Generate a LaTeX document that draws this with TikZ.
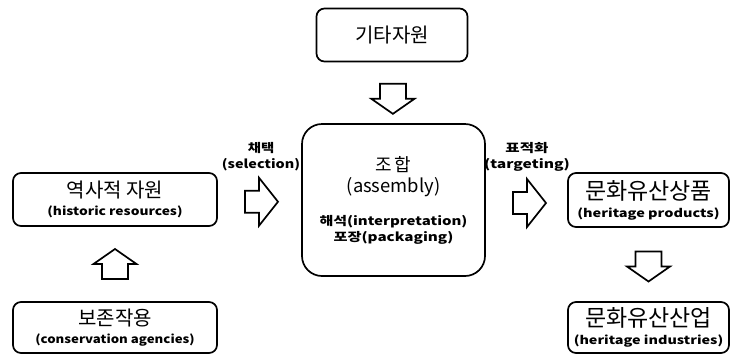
\documentclass[tikz,border=0pt]{standalone}
\usepackage{fontspec}
\setmainfont{Noto Sans CJK KR}
\usetikzlibrary{calc}
\newcommand{\wbt}[3]{{\bfseries\fontsize{#1}{14}\selectfont\addfontfeature{FakeStretch=#2}#3}}
\newcommand{\kt}[2]{{\fontsize{#1}{22}\selectfont #2}}
\tikzset{
  box/.style={draw=black, line width=1.7pt, rounded corners=8pt, align=center, inner sep=0pt, fill=white},
  blk/.style={draw=black, line width=1.7pt, fill=white, line join=miter},
  lbl/.style={align=center, inner sep=0pt},
  rarrow/.pic={\draw[blk] (-16.5,-11) -- (-2.5,-11) -- (-2.5,-24) -- (16.5,0) -- (-2.5,24) -- (-2.5,11) -- (-16.5,11) -- cycle;},
  darrow/.pic={\draw[blk] (-13,-15) -- (13,-15) -- (13,0) -- (21.5,0) -- (0,15) -- (-21.5,0) -- (-13,0) -- cycle;},
  uarrow/.pic={\draw[blk] (-13,15) -- (13,15) -- (13,0) -- (21.5,0) -- (0,-15) -- (-21.5,0) -- (-13,0) -- cycle;}
}
\begin{document}
\begin{tikzpicture}[x=1pt,y=-1pt]
\useasboundingbox (0,0) rectangle (731,354);
% boxes
\node[box, minimum width=151pt, minimum height=53pt] (other) at (392,35) {\kt{20}{기타자원}};
\node[box, rounded corners=20pt, minimum width=183pt, minimum height=152pt] (asm) at (393.5,200) {};
\node[box, minimum width=204pt, minimum height=53pt] (hist) at (115,199.5)
  {\kt{20}{역사적 자원}\\[6pt]\wbt{11.5}{1.2}{(historic resources)}};
\node[box, minimum width=204pt, minimum height=51pt] (cons) at (115,327.5)
  {\kt{20}{보존작용}\\[6pt]\wbt{11.5}{1.15}{(conservation agencies)}};
\node[box, minimum width=161pt, minimum height=54pt] (prod) at (648.5,200)
  {\kt{23}{문화유산상품}\\[6pt]\wbt{11.5}{1.26}{(heritage products)}};
\node[box, minimum width=161pt, minimum height=51pt] (ind) at (648.5,327.5)
  {\kt{23}{문화유산산업}\\[6pt]\wbt{11.5}{1.25}{(heritage industries)}};
% text inside assembly box
\node[inner sep=0pt] (asmk) at (393.5,165) {\kt{18}{조\kern2pt 합}};
\node[inner sep=0pt, font=\fontsize{18.4}{20}\selectfont] (asme) at (393.5,187) {(assembly)};
\node[inner sep=0pt] (asm1) at (393.5,222) {\wbt{12}{1.25}{해석(interpretation)}};
\node[inner sep=0pt] (asm2) at (393.5,238) {\wbt{12}{1.27}{포장(packaging)}};
% block arrows
\path ($(other.south)!0.6!(asm.north)$) pic {darrow};
\path ($(hist.east)!0.5!(asm.west)$) ++(2,2) pic {rarrow};
\path ($(asm.east)!0.5!(prod.west)$) ++(3,3) pic {rarrow};
\path ($(cons.north)!0.5!(hist.south)$) pic {uarrow};
\path ($(prod.south)!0.5!(ind.north)$) ++(0,2) pic {darrow};
% labels
\node[lbl] (sel) at (261,156.5) {\wbt{12}{1.2}{채택}\\[4pt]\wbt{12}{1.2}{(selection)}};
\node[lbl] (tgt) at (527,156.5) {\wbt{12}{1.3}{표적화}\\[4pt]\wbt{12}{1.3}{(targeting)}};
\end{tikzpicture}
\end{document}
